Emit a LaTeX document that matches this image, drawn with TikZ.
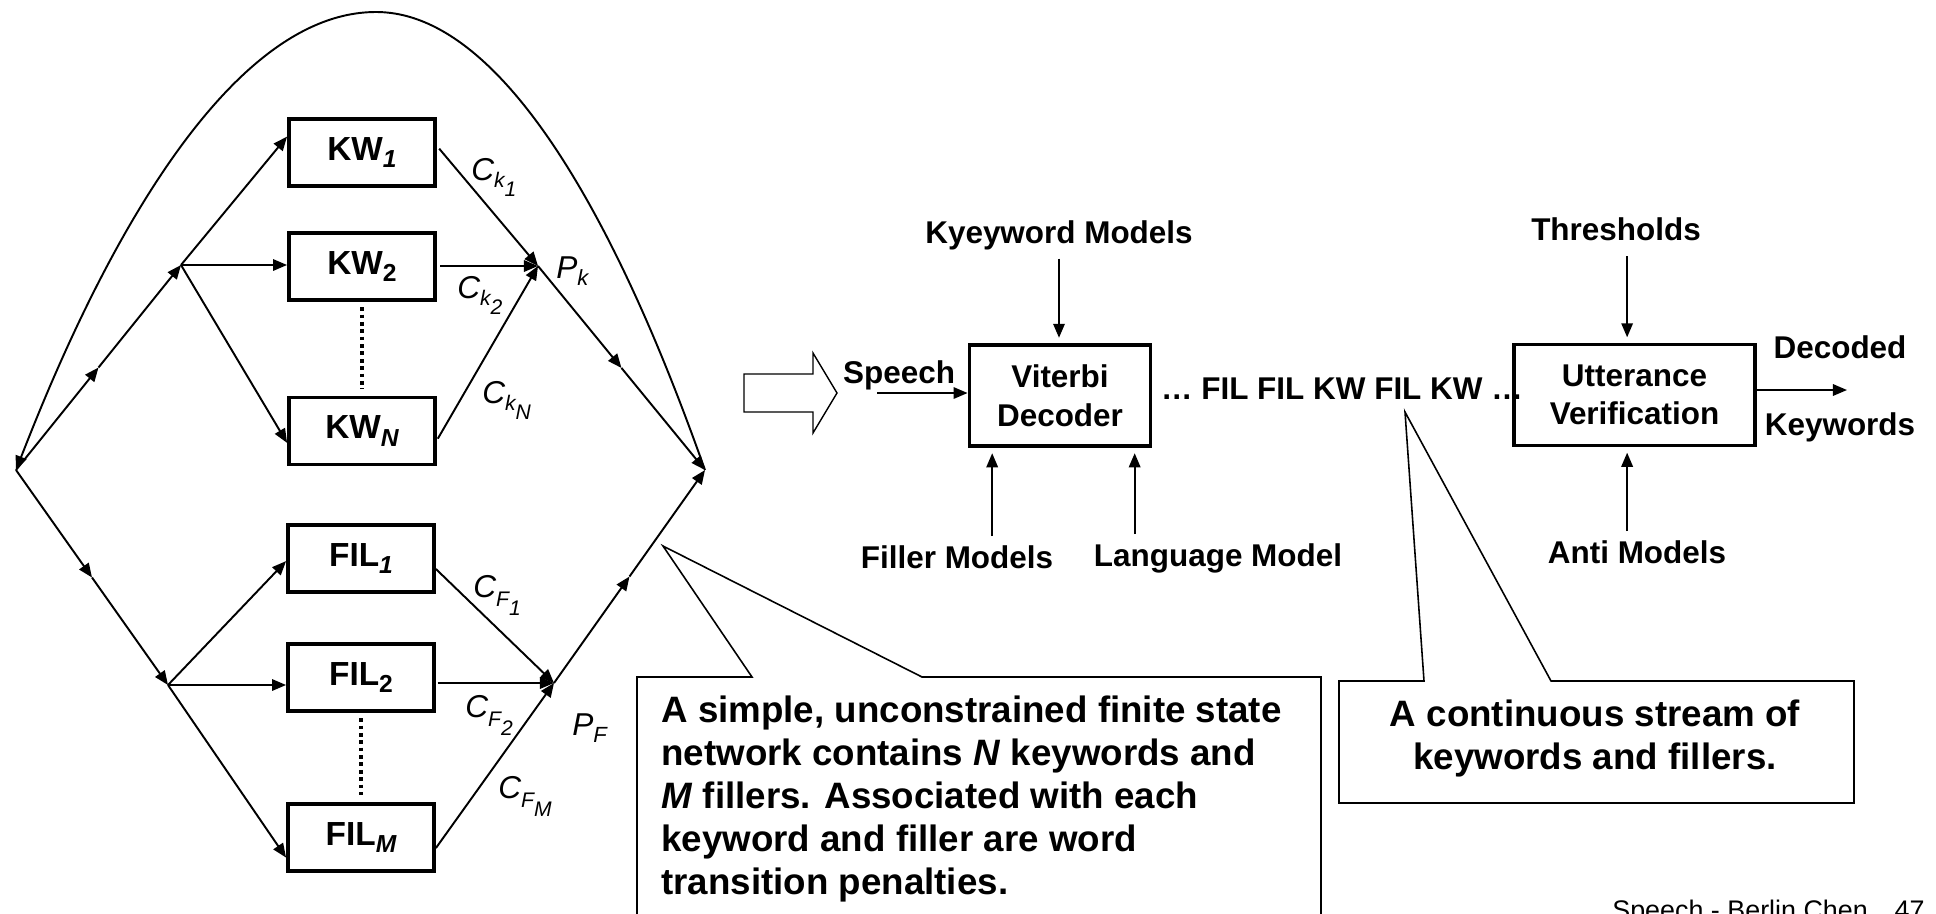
\documentclass[tikz,border=0pt]{standalone}
\usepackage{fontspec}
\setmainfont{Liberation Sans}
\usetikzlibrary{arrows.meta,calc,positioning}

% subscripts as the slide sets them
\newcommand\boxsub[1]{\raisebox{-4.5pt}{\fontsize{14}{16}\selectfont #1}}
\newcommand\pen[4]{#1\raisebox{-#4}{\fontsize{12}{14}\selectfont #2\raisebox{-4.8pt}{#3}}}
\newcommand\join[2]{#1\raisebox{-4.5pt}{\fontsize{12.5}{14}\selectfont #2}}

\begin{document}
\begin{tikzpicture}[x=0.02cm, y=-0.02cm, >={Triangle[length=8pt,width=6.5pt]},
  wire/.style={line width=1.1pt},
  model/.style={draw, line width=2.2pt, inner sep=0pt, minimum width=2.92cm, minimum height=1.34cm,
    font=\fontsize{19}{22}\selectfont\bfseries},
  stage/.style={draw, line width=2.2pt, inner sep=0pt, minimum height=2.02cm, align=center,
    font=\fontsize{17.9}{22}\selectfont\bfseries},
  lbl/.style={inner sep=5pt, font=\fontsize{17.9}{22}\selectfont\bfseries},
  cost/.style={inner sep=0pt, font=\fontsize{18}{22}\selectfont\itshape},
  dots/.style={line width=2.2pt, dash pattern=on 2.1pt off 2.1pt, shorten <=3pt, shorten >=4pt},
  callout/.style={line width=0.9pt},
  note/.style={inner sep=0pt, font=\fontsize{20.9}{24.4}\selectfont\bfseries}]

  % Page frame
  \useasboundingbox (0,0) rectangle (1936,913);
  \clip (0,0) rectangle (1936,913);
  \fill[white] (0,0) rectangle (1936,913);

  % Keyword and filler models
  \node[model] (kw1) at (362,152.5) {KW\boxsub{\itshape 1}};
  \node[model] (kw2) at (362,266.5) {KW\boxsub{2}};
  \node[model] (kwn) at (362,431) {KW\boxsub{\itshape N}};
  \node[model] (fil1) at (361,558.5) {FIL\boxsub{\itshape 1}};
  \node[model] (fil2) at (361,677.5) {FIL\boxsub{2}};
  \node[model] (film) at (361,837.5) {FIL\boxsub{\itshape M}};
  \draw[dots] (kw2.south) -- (kwn.north);
  \draw[dots] (fil2.south) -- (film.north);

  % Branching points of the network
  \coordinate (start) at (16,470);
  \coordinate (stop) at (705,470);
  \coordinate (kwsplit) at (181,265);
  \coordinate (filsplit) at (168,685);
  \coordinate (kwjoin) at (538,266);
  \coordinate (filjoin) at (554,683);

  % Loop back from the end to the start
  \draw[wire,->] (stop) parabola bend (376,12) (start);

  % Keyword branch
  \draw[wire,->] (start) -- ($(start)!0.5!(kwsplit)$);
  \draw[wire,->] ($(start)!0.5!(kwsplit)$) -- (kwsplit);
  \draw[wire,->] (kwsplit) -- (kw1.168);
  \draw[wire,->] (kwsplit) -- (kw2.west |- kwsplit);
  \draw[wire,->] (kwsplit) -- (kwn.189);
  \draw[wire,->,shorten <=2pt] (kw1.5) -- (kwjoin);
  \draw[wire,->,shorten <=2pt] (kw2.east |- kwjoin) -- (kwjoin);
  \draw[wire,->,shorten <=1pt] (kwn.-7) -- (kwjoin);
  \draw[wire,->] (kwjoin) -- ($(kwjoin)!0.5!(stop)$);
  \draw[wire,->] ($(kwjoin)!0.5!(stop)$) -- (stop);

  % Filler branch
  \draw[wire,->] (start) -- ($(start)!0.5!(filsplit)$);
  \draw[wire,->] ($(start)!0.5!(filsplit)$) -- (filsplit);
  \draw[wire,->] (filsplit) -- (fil1.182);
  \draw[wire,->] (filsplit) -- (fil2.west |- filsplit);
  \draw[wire,->] (filsplit) -- (film.195);
  \draw[wire,->] (fil1.-8) -- (filjoin);
  \draw[wire,->,shorten <=1pt] (fil2.east |- filjoin) -- (filjoin);
  \draw[wire,->] (film.-8) -- (filjoin);
  \draw[wire,->] (filjoin) -- ($(filjoin)!0.5!(stop)$);
  \draw[wire,->] ($(filjoin)!0.5!(stop)$) -- (stop);

  % Transition penalties
  \node[cost, anchor=base west] (ck1) at (471,180) {\pen{C}{k}{1}{4.5pt}};
  \node[cost, anchor=base west] (ck2) at (457,298) {\pen{C}{k}{2}{4.5pt}};
  \node[cost, anchor=base west] (ckn) at (482,403) {\pen{C}{k}{N}{4.5pt}};
  \node[cost, anchor=base west] (pk) at (556,278) {\join{P}{k}};
  \node[cost, anchor=base west] (cf1) at (473,597) {\pen{C}{F}{1}{5.5pt}};
  \node[cost, anchor=base west] (cf2) at (465,717) {\pen{C}{F}{2}{5.5pt}};
  \node[cost, anchor=base west] (cfm) at (498,798) {\pen{C}{F}{M}{5.5pt}};
  \node[cost, anchor=base west] (pf) at (572,735) {\join{P}{F}};

  % Hollow arrow to the system view
  \draw[line width=0.8pt] (744,374) -- (813,374) -- (813,353) -- (837,393)
    -- (813,433) -- (813,412) -- (744,412) -- cycle;

  % Decoder
  \node[stage, minimum width=3.62cm] (vit) at (1060,395.5) {Viterbi\\Decoder};
  \node[lbl, anchor=base] (kwm) at (1059,243) {Kyeyword Models};
  \node[lbl, anchor=base west] (speech) at (834,383) {Speech};
  \node[lbl, anchor=base] (fm) at (957,568) {Filler Models};
  \node[lbl, anchor=base] (lm) at (1218,566) {Language Model};
  \coordinate (spstart) at (877,393);
  \coordinate (vitf) at ([xshift=-38.6pt]vit.south);
  \coordinate (vitl) at ([xshift=42.5pt]vit.south);
  \draw[wire,->,shorten >=3pt] (kwm.south) -- (kwm.south |- vit.north);
  \draw[wire,->] (spstart) -- (spstart -| vit.west);
  \draw[wire,->,shorten >=3pt] (fm.north -| vitf) -- (vitf);
  \draw[wire,->,shorten >=3pt] (lm.north -| vitl) -- (vitl);

  % Decoded stream
  \node[lbl, anchor=base west] (stream) at (1152,399) {… FIL FIL KW FIL KW …};

  % Verification
  \node[stage, minimum width=4.82cm] (utt) at (1634.5,395) {Utterance\\Verification};
  \node[lbl, anchor=base] (thr) at (1616,240) {Thresholds};
  \node[lbl, anchor=base] (anti) at (1637,563) {Anti Models};
  \node[lbl, anchor=base] (dec) at (1840,358) {Decoded};
  \node[lbl, anchor=base] (kwo) at (1840,435) {Keywords};
  \coordinate (uttt) at ([xshift=-4.2pt]utt.north);
  \coordinate (uttb) at ([xshift=-4.2pt]utt.south);
  \coordinate (outend) at (1847,390);
  \draw[wire,->,shorten <=4pt,shorten >=3pt] (thr.south -| uttt) -- (uttt);
  \draw[wire,->,shorten >=3pt] (anti.north -| uttb) -- (uttb);
  \draw[wire,->] (utt.east |- outend) -- (outend);

  % Callouts
  \draw[callout] (637,925) -- (637,677) -- (752,677) -- (663,546) -- (922,677)
    -- (1321,677) -- (1321,925);
  \node[note, anchor=north west, align=left] (netnote) at (661,696)
    {A simple, unconstrained finite state\\
     network contains \textit{N} keywords and\\
     \textit{M} fillers. Associated with each\\
     keyword and filler are word\\
     transition penalties.};
  \draw[callout] (1339,681) -- (1424,681) -- (1405,412) -- (1551,681) -- (1854,681)
    -- (1854,803) -- (1339,803) -- cycle;
  \node[note, anchor=north, align=center] (streamnote) at (1595,700)
    {A continuous stream of\\keywords and fillers.};

  % Footer
  \node[inner sep=0pt, anchor=base east, font=\fontsize{15.3}{18}\selectfont] (foot)
    at (1925,919) {Speech - Berlin Chen\quad 47};
\end{tikzpicture}
\end{document}
